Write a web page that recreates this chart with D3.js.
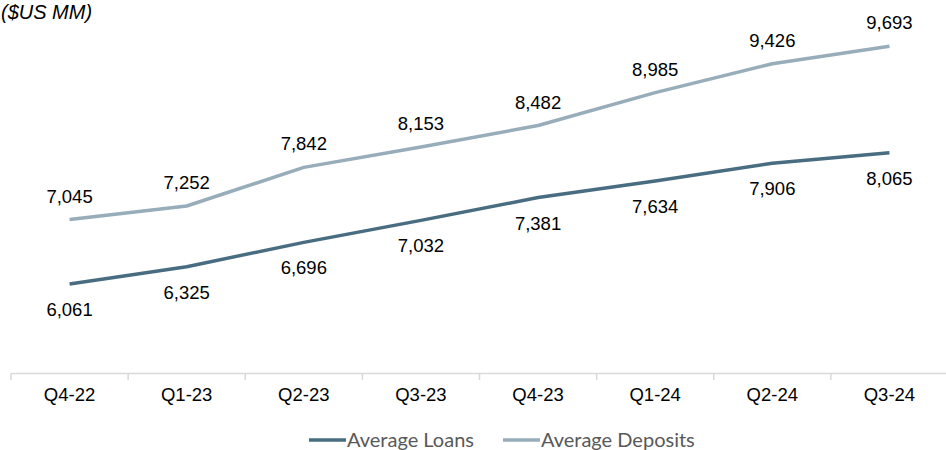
<!DOCTYPE html>
<html>
<head>
<meta charset="utf-8">
<script src="https://cdn.jsdelivr.net/npm/d3@7"></script>
<style>
  html, body { margin: 0; padding: 0; background: #fff; }
  svg { display: block; }
</style>
</head>
<body>
<svg id="chart" width="946" height="450"></svg>
<script>
// Quarterly averages, $US millions
const quarters = ["Q4-22", "Q1-23", "Q2-23", "Q3-23", "Q4-23", "Q1-24", "Q2-24", "Q3-24"];
const avgLoans = [6061, 6325, 6696, 7032, 7381, 7634, 7906, 8065];
const avgDeposits = [7045, 7252, 7842, 8153, 8482, 8985, 9426, 9693];
const seriesNames = ["Average Loans", "Average Deposits"];
const seriesColors = ["#486d80", "#97adba"];

const svg = d3.select("#chart");
const axisY = 373;

const x = d3.scaleBand().domain(quarters).range([11, 948]);
const y = d3.scaleLinear().domain([4700, 10400]).range([axisY, 0]);

const fmt = d3.format(",");
const numFont = "Liberation Sans, Arial, sans-serif";
const numSize = 18.5;

// unit caption
svg.append("text")
  .attr("x", 1).attr("y", 19)
  .attr("font-family", numFont).attr("font-size", 20)
  .attr("font-style", "italic").attr("fill", "#000")
  .text("($US MM)");

// category axis
const xAxis = d3.axisBottom(x).tickSize(0).tickPadding(15);
const gx = svg.append("g").attr("transform", `translate(0,${axisY})`).call(xAxis);
gx.select(".domain").attr("stroke", "#d9d9d9").attr("stroke-width", 1.5);
gx.selectAll(".tick text")
  .attr("font-family", numFont).attr("font-size", numSize).attr("fill", "#000");
// boundary ticks between categories
const bounds = quarters.map(q => x(q)).concat([x(quarters[quarters.length - 1]) + x.bandwidth()]);
svg.append("g").selectAll("line").data(bounds).join("line")
  .attr("x1", d => d).attr("x2", d => d)
  .attr("y1", axisY).attr("y2", axisY + 7)
  .attr("stroke", "#d9d9d9").attr("stroke-width", 1.5);

const cx = q => x(q) + x.bandwidth() / 2;
const line = d3.line().x(d => cx(d.q)).y(d => y(d.v));

const series = [
  { name: seriesNames[0], color: seriesColors[0], values: avgLoans, dy: 32 },
  { name: seriesNames[1], color: seriesColors[1], values: avgDeposits, dy: -17 }
];

series.forEach(s => {
  const pts = quarters.map((q, i) => ({ q, v: s.values[i] }));
  svg.append("path")
    .datum(pts)
    .attr("d", line)
    .attr("fill", "none")
    .attr("stroke", s.color)
    .attr("stroke-width", 3.5)
    .attr("stroke-linejoin", "round");
  svg.append("g").selectAll("text").data(pts).join("text")
    .attr("x", d => cx(d.q))
    .attr("y", d => y(d.v) + s.dy)
    .attr("text-anchor", "middle")
    .attr("font-family", numFont).attr("font-size", numSize).attr("fill", "#000")
    .text(d => fmt(d.v));
});

// legend
const legend = svg.append("g").attr("transform", "translate(309,440)");
let lx = 0;
series.forEach(s => {
  legend.append("line")
    .attr("x1", lx).attr("x2", lx + 37).attr("y1", 0).attr("y2", 0)
    .attr("stroke", s.color).attr("stroke-width", 3.5);
  const t = legend.append("text")
    .attr("x", lx + 38).attr("y", 7)
    .attr("font-family", "Lato, Open Sans, sans-serif").attr("font-size", 20)
    .attr("fill", "#595959")
    .text(s.name);
  lx += 38 + t.node().getComputedTextLength() + 29;
});
</script>
</body>
</html>
